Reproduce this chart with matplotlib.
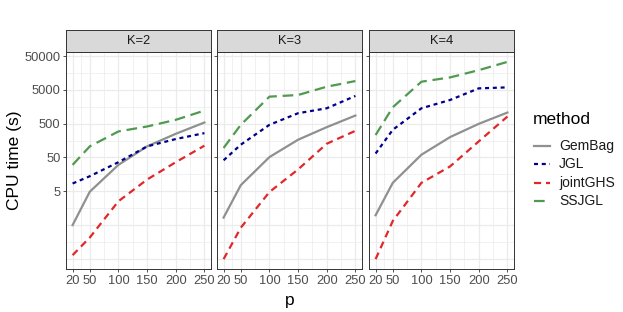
import matplotlib
matplotlib.use("Agg")
import matplotlib.pyplot as plt
import numpy as np

plt.rcParams['font.family'] = ['Liberation Sans', 'DejaVu Sans']

p = [20, 50, 100, 150, 200, 250]
panels = ["K=2", "K=3", "K=4"]
methods = ["GemBag", "JGL", "jointGHS", "SSJGL"]

# CPU time (s)
gembag = [[0.49, 4.8, 30, 106, 250, 540],
          [0.82, 7.5, 51, 167, 394, 870],
          [0.96, 8.8, 60, 200, 494, 1067]]
jgl = [[8.4, 13.8, 36, 106, 175, 262],
       [41, 119, 462, 1020, 1430, 3320],
       [65, 329, 1430, 2520, 5570, 5960]]
jointghs = [[0.063, 0.21, 2.5, 11, 36, 111],
            [0.048, 0.41, 4.7, 22, 127, 307],
            [0.048, 0.65, 8.8, 27, 149, 813]]
ssjgl = [[30, 106, 294, 412, 650, 1220],
         [95, 462, 3160, 3540, 6240, 9170],
         [230, 1535, 8770, 11760, 19300, 34000]]

series = [gembag, jgl, jointghs, ssjgl]
colors = ["#8e9190", "#00008B", "#E0282A", "#4F9A50"]
dashes = [None, (1.8, 1.7), (3.2, 2.2), (4.8, 2.6)]

yticks = [5, 50, 500, 5000, 50000]
xminor = [35, 75, 125, 175, 225]

allv = np.log10(np.concatenate([np.ravel(s) for s in series]))
lo, hi = allv.min(), allv.max()
pad = 0.05 * (hi - lo)
ylim = (10 ** (lo - pad), 10 ** (hi + pad))
xpad = 0.05 * (max(p) - min(p))
xlim = (min(p) - xpad, max(p) + xpad)

W, H = 623, 312
fig = plt.figure(figsize=(W / 100, H / 100), dpi=100)

lefts = [66, 217, 369]
pw = 145
ptop, pbot = 52, 269
strip_top = 30

grid_major = np.arange(np.floor(lo) - 1, np.ceil(hi) + 2)
lines = []
for i, k in enumerate(panels):
    ax = fig.add_axes([lefts[i] / W, (H - pbot) / H, pw / W, (pbot - ptop) / H])
    ax.set_yscale("log")
    ax.set_xlim(*xlim)
    ax.set_ylim(*ylim)
    # grid
    for e in grid_major:
        v = 5 * 10 ** e
        ax.axhline(v, color="#EBEBEB", lw=0.9, zorder=0)
        ax.axhline(5 * 10 ** (e + 0.5), color="#EBEBEB", lw=0.5, zorder=0)
    for x in p:
        ax.axvline(x, color="#EBEBEB", lw=0.9, zorder=0)
    for x in xminor:
        ax.axvline(x, color="#EBEBEB", lw=0.5, zorder=0)
    for s, c, d, m in zip(series, colors, dashes, methods):
        ln, = ax.plot(p, s[i], color=c, lw=1.6, label=m)
        if d is not None:
            ln.set_dashes(d)
        if i == 0:
            lines.append(ln)
    ax.set_xticks(p)
    ax.set_xticklabels([str(v) for v in p])
    ax.minorticks_off()
    ax.set_yticks(yticks)
    if i == 0:
        ax.set_yticklabels([str(v) for v in yticks])
    else:
        ax.set_yticklabels([])
        ax.tick_params(axis="y", length=0)
    ax.tick_params(axis="both", labelsize=9.3, labelcolor="#4D4D4D", color="#333333",
                   length=2.5, width=0.6, pad=1.5)
    for sp in ax.spines.values():
        sp.set_color("#333333")
        sp.set_linewidth(0.7)
    # strip
    sax = fig.add_axes([lefts[i] / W, (H - ptop) / H, pw / W, (ptop - strip_top) / H])
    sax.set_facecolor("#D9D9D9")
    sax.set_xticks([])
    sax.set_yticks([])
    for sp in sax.spines.values():
        sp.set_color("#333333")
        sp.set_linewidth(0.7)
    sax.text(0.5, 0.5, k, ha="center", va="center", fontsize=9.3, color="#1A1A1A",
             transform=sax.transAxes)

fig.text((lefts[0] + lefts[2] + pw) / 2 / W, 1 - 300 / H, "p", ha="center", va="center",
         fontsize=12.5)
fig.text(15 / W, 1 - 160 / H, "CPU time (s)", ha="center", va="center", rotation=90,
         fontsize=12.5)

fig.text(533 / W, 1 - 120 / H, "method", ha="left", va="center", fontsize=12.5)
leg_y = [146, 164, 183, 201]
for ln, yy, m in zip(lines, leg_y, methods):
    l2 = plt.Line2D([534 / W, 550 / W], [1 - yy / H, 1 - yy / H], transform=fig.transFigure,
                    color=ln.get_color(), lw=1.6)
    if ln.get_linestyle() != "-":
        l2.set_dashes(dashes[methods.index(m)])
    fig.add_artist(l2)
    fig.text(559 / W, 1 - yy / H, m, ha="left", va="center", fontsize=10, color="#1A1A1A")

fig.savefig("out.png", dpi=100)
